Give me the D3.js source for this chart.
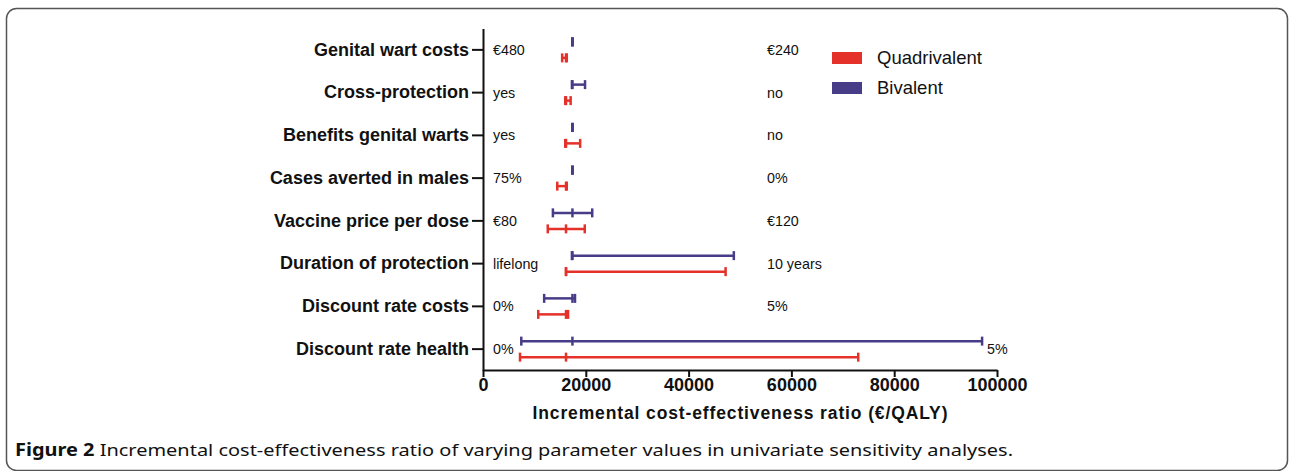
<!DOCTYPE html>
<html>
<head>
<meta charset="utf-8">
<script src="https://cdn.jsdelivr.net/npm/d3@7/dist/d3.min.js"></script>
<style>
  body { margin: 0; background: #fff; }
  svg { display: block; }
</style>
</head>
<body>
<svg id="chart" width="1289" height="471"></svg>
<script>
  'use strict';

  // parameters, top to bottom
  var categories = [
    'Genital wart costs', 'Cross-protection', 'Benefits genital warts',
    'Cases averted in males', 'Vaccine price per dose', 'Duration of protection',
    'Discount rate costs', 'Discount rate health'
  ];
  var leftLabels = ['€480', 'yes', 'yes', '75%', '€80', 'lifelong', '0%', '0%'];
  var rightLabels = ['€240', 'no', 'no', '0%', '€120', '10 years', '5%', '5%'];

  // ICER (€/QALY) ranges
  var bivalentBase = 17400;
  var bivalentLow  = [17400, 17300, 17400, 17400, 13600, 17300, 11900, 7450];
  var bivalentHigh = [17400, 19850, 17400, 17400, 21250, 48800, 17900, 97100];

  var quadBase = 16150;
  var quadLow  = [15400, 16000, 16000, 14450, 12600, 16150, 10750, 7200];
  var quadHigh = [16300, 17050, 18900, 16300, 19800, 47200, 16550, 73000];

  var xTicks = [0, 20000, 40000, 60000, 80000, 100000];

  var red = '#e4312a', purple = '#473c88';

  var svg = d3.select('#chart');

  // frame
  svg.append('rect')
    .attr('x', 6.5).attr('y', 8.5)
    .attr('width', 1281).attr('height', 462)
    .attr('rx', 10)
    .attr('fill', 'none')
    .attr('stroke', '#555')
    .attr('stroke-width', 1.5);

  var x = d3.scaleLinear().domain([0, 100000]).range([483, 997]);
  var y = d3.scaleBand().domain(categories).range([28.5, 370.5]);

  var series = [
    { name: 'Bivalent', color: purple, base: bivalentBase, low: bivalentLow, high: bivalentHigh, off: -8 },
    { name: 'Quadrivalent', color: red, base: quadBase, low: quadLow, high: quadHigh, off: 8 }
  ];

  var font = 'Liberation Sans, Arial, sans-serif';

  // axes
  var yAxis = svg.append('g')
    .attr('transform', 'translate(483,0)')
    .call(d3.axisLeft(y).tickSize(11).tickSizeOuter(0).tickPadding(3));
  yAxis.selectAll('text')
    .attr('font-family', font)
    .attr('font-size', 18)
    .attr('font-weight', 'bold')
    .attr('fill', '#111');

  var xAxis = svg.append('g')
    .attr('transform', 'translate(0,370)')
    .call(d3.axisBottom(x).tickValues(xTicks).tickFormat(d3.format('d')).tickSize(7).tickSizeOuter(0).tickPadding(1));
  xAxis.selectAll('text')
    .attr('font-family', font)
    .attr('font-size', 18)
    .attr('font-weight', 'bold')
    .attr('fill', '#111');

  svg.selectAll('.domain, .tick line')
    .attr('stroke', '#111')
    .attr('stroke-width', 2);

  svg.append('text')
    .attr('x', x(50000)).attr('y', 419)
    .attr('text-anchor', 'middle')
    .attr('font-family', font)
    .attr('font-size', 17.5)
    .attr('font-weight', 'bold')
    .attr('fill', '#111')
    .attr('textLength', 415)
    .attr('lengthAdjust', 'spacing')
    .text('Incremental cost-effectiveness ratio (€/QALY)');

  // range bars
  series.forEach(function (s) {
    var g = svg.append('g').attr('stroke', s.color).attr('stroke-width', 2.5);
    var cy = function (i) { return y(categories[i]) + y.bandwidth() / 2 + s.off; };

    g.selectAll('line.range')
      .data(categories)
      .enter().append('line')
      .attr('class', 'range')
      .attr('x1', function (d, i) { return x(s.low[i]); })
      .attr('x2', function (d, i) { return x(s.high[i]); })
      .attr('y1', function (d, i) { return cy(i); })
      .attr('y2', function (d, i) { return cy(i); });

    var caps = [];
    categories.forEach(function (d, i) {
      caps.push({ v: s.low[i], i: i });
      caps.push({ v: s.base, i: i });
      caps.push({ v: s.high[i], i: i });
    });
    g.selectAll('line.cap')
      .data(caps)
      .enter().append('line')
      .attr('class', 'cap')
      .attr('x1', function (d) { return x(d.v); })
      .attr('x2', function (d) { return x(d.v); })
      .attr('y1', function (d) { return cy(d.i) - 4.5; })
      .attr('y2', function (d) { return cy(d.i) + 4.5; });
  });

  // parameter value labels
  svg.append('g').selectAll('text')
    .data(leftLabels)
    .enter().append('text')
    .attr('x', x(0) + 10)
    .attr('y', function (d, i) { return y(categories[i]) + y.bandwidth() / 2; })
    .attr('dy', '0.35em')
    .attr('font-family', font)
    .attr('font-size', 14.3)
    .attr('fill', '#111')
    .text(function (d) { return d; });

  svg.append('g').selectAll('text')
    .data(rightLabels)
    .enter().append('text')
    .attr('x', function (d, i) {
      var maxEnd = Math.max(bivalentHigh[i], quadHigh[i]);
      return Math.max(767, x(maxEnd) + 5);
    })
    .attr('y', function (d, i) { return y(categories[i]) + y.bandwidth() / 2; })
    .attr('dy', '0.35em')
    .attr('font-family', font)
    .attr('font-size', 14.3)
    .attr('fill', '#111')
    .text(function (d) { return d; });

  // legend
  var legend = svg.append('g').attr('transform', 'translate(832,52)');
  [series[1], series[0]].forEach(function (s, k) {
    legend.append('rect')
      .attr('x', 0).attr('y', k * 30)
      .attr('width', 30).attr('height', 12)
      .attr('fill', s.color);
    legend.append('text')
      .attr('x', 45).attr('y', k * 30 + 6)
      .attr('dy', '0.35em')
      .attr('font-family', font)
      .attr('font-size', 18.5)
      .attr('fill', '#111')
      .text(s.name);
  });

  // caption
  var cap = svg.append('text')
    .attr('x', 15).attr('y', 456)
    .attr('font-family', 'Noto Sans, Open Sans, sans-serif')
    .attr('font-size', 17)
    .attr('fill', '#111')
    .attr('textLength', 998)
    .attr('lengthAdjust', 'spacingAndGlyphs');
  cap.append('tspan').attr('font-weight', 'bold').text('Figure 2');
  cap.append('tspan').text(' Incremental cost-effectiveness ratio of varying parameter values in univariate sensitivity analyses.');
</script>
</body>
</html>
